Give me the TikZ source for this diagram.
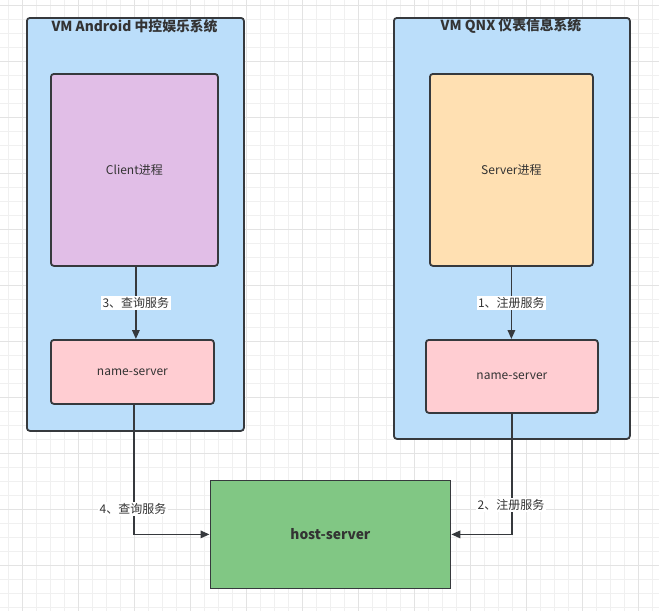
\documentclass[tikz,border=0pt]{standalone}
\usepackage{fontspec}
\setmainfont{Noto Sans CJK SC}
\usetikzlibrary{arrows.meta}
\definecolor{edgec}{HTML}{36393D}
\definecolor{vmfill}{HTML}{BBDEFA}
\definecolor{clientfill}{HTML}{E1BEE7}
\definecolor{serverfill}{HTML}{FFE0B2}
\definecolor{nsfill}{HTML}{FFCDD2}
\definecolor{hostfill}{HTML}{81C784}
\definecolor{gridminor}{HTML}{F0F0F0}
\definecolor{gridmajor}{HTML}{E3E3E3}
\definecolor{txt}{HTML}{333333}
\tikzset{
  boxbase/.style={draw=edgec, line width=1.8pt, rounded corners=3pt, anchor=north west, inner sep=0pt, text=txt},
  vm/.style={boxbase, fill=vmfill},
  proc/.style={boxbase, font=\fontsize{12}{14}\selectfont},
  title/.style={text=txt, font=\bfseries\fontsize{13.8}{16}\selectfont, inner sep=0pt},
  conn/.style={draw=edgec, line width=1.7pt, -{Triangle[length=9pt,width=7.5pt]}},
  lbl/.style={fill=white, text=txt, font=\fontsize{12}{14}\selectfont, inner sep=1.5pt},
}
\begin{document}
\begin{tikzpicture}[x=1pt,y=-1pt]
\useasboundingbox (0,0) rectangle (659,611);
\fill[white] (0,0) rectangle (659,611);
% grid
\foreach \i in {0,...,46} {\draw[gridminor, line width=0.8pt] ({8.7+14*\i},0) -- ({8.7+14*\i},611);}
\foreach \i in {0,...,43} {\draw[gridminor, line width=0.8pt] (0,{5.3+14*\i}) -- (659,{5.3+14*\i});}
\foreach \i in {0,...,11} {\draw[gridmajor, line width=0.9pt] ({22.7+56*\i},0) -- ({22.7+56*\i},611);}
\foreach \i in {0,...,10} {\draw[gridmajor, line width=0.9pt] (0,{5.3+56*\i}) -- (659,{5.3+56*\i});}
% containers
\node[vm, minimum width=217pt, minimum height=413pt] (andr) at (26,17) {};
\node[vm, minimum width=236pt, minimum height=421pt] (qnx) at (393,17) {};
\node[title] (andrt) at (134.5,26) {VM Android 中控娱乐系统};
\node[title] (qnxt) at (511,26) {VM QNX 仪表信息系统};
% processes
\node[proc, fill=clientfill, minimum width=167pt, minimum height=192pt] (client) at (50,73) {Client进程};
\node[proc, fill=serverfill, minimum width=163pt, minimum height=192pt] (server) at (429,73) {Server进程};
\node[proc, fill=nsfill, minimum width=163pt, minimum height=64pt] (ns1) at (50,339) {name-server};
\node[proc, fill=nsfill, minimum width=172pt, minimum height=73pt] (ns2) at (425,339) {name-server};
\node[boxbase, rounded corners=0pt, fill=hostfill, minimum width=240pt, minimum height=108pt, font=\bfseries\fontsize{13.8}{16}\selectfont] (host) at (209.5,479.5) {host-server};
% connectors
\draw[conn] ([xshift=1.5pt]client.south) -- ([xshift=1.5pt]client.south |- ns1.north) node[lbl, midway] (l3) {3、查询服务};
\draw[conn] (server.south) -- (server.south |- ns2.north) node[lbl, midway] (l1) {1、注册服务};
\draw[conn] ([xshift=1.5pt]ns1.south) |- (host.west);
\draw[conn] (ns2.south) |- (host.east);
\node[lbl] (l4) at (133,509) {4、查询服务};
\node[lbl] (l2) at (511,505) {2、注册服务};
\end{tikzpicture}
\end{document}
